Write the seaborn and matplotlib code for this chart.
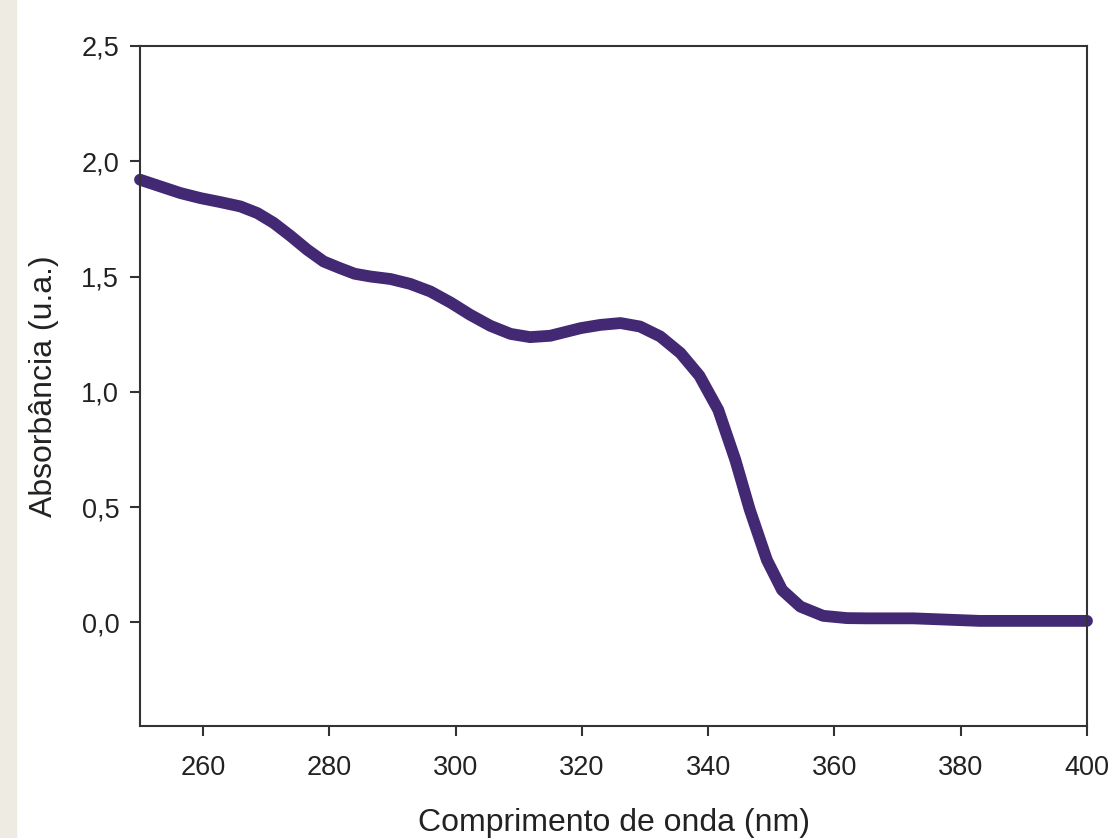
import pandas as pd
import matplotlib.pyplot as plt
import seaborn as sns
from matplotlib.patches import Rectangle

wavelength = [250.0, 253.2, 256.4, 259.6, 262.7, 265.9, 268.6, 271.2, 273.8,
              276.5, 279.1, 281.7, 284.0, 286.5, 289.7, 292.8, 296.0, 299.2,
              302.3, 305.5, 308.7, 311.8, 315.0, 316.6, 319.8, 322.9, 326.1,
              329.2, 332.4, 335.6, 338.6, 341.6, 344.3, 346.6, 349.3, 351.7,
              354.6, 358.2, 362.0, 365.2, 372.5, 383.0, 390.0, 400.0]
absorbance = [1.920, 1.891, 1.862, 1.840, 1.823, 1.804, 1.775, 1.732, 1.677,
              1.616, 1.565, 1.536, 1.512, 1.500, 1.489, 1.468, 1.435, 1.387,
              1.334, 1.286, 1.251, 1.237, 1.243, 1.254, 1.276, 1.290, 1.298,
              1.283, 1.240, 1.168, 1.070, 0.921, 0.704, 0.487, 0.270, 0.140,
              0.068, 0.028, 0.018, 0.017, 0.017, 0.006, 0.006, 0.006]

xtick_values = [260, 280, 300, 320, 340, 360, 380, 400]
ytick_values = [0.0, 0.5, 1.0, 1.5, 2.0, 2.5]
ytick_labels = ["0,0", "0,5", "1,0", "1,5", "2,0", "2,5"]

df = pd.DataFrame({"nm": wavelength, "abs": absorbance})

sns.set_style("ticks")
plt.rcParams['font.family'] = ['Liberation Sans', 'DejaVu Sans']

fig = plt.figure(figsize=(11.08, 8.38), dpi=100)
fig.patches.append(Rectangle((0, 0), 16 / 1108, 1, transform=fig.transFigure,
                             color="#eeebe3", zorder=0))
ax = fig.add_axes([140 / 1108, 1 - 726 / 838, 947 / 1108, 680 / 838])

sns.lineplot(data=df, x="nm", y="abs", color="#432874", linewidth=8.5,
             solid_capstyle="round", solid_joinstyle="round", ax=ax, clip_on=False)

ax.set_xlim(250, 400)
ax.set_ylim(-0.45, 2.5)
ax.set_xticks(xtick_values)
ax.set_yticks(ytick_values)
ax.set_yticklabels(ytick_labels)

for s in ax.spines.values():
    s.set_visible(True)
    s.set_linewidth(1.5)
    s.set_color("#333333")
ax.tick_params(length=7, width=1.5, color="#333333", labelsize=19.5,
               labelcolor="#222222")
ax.tick_params(axis="y", pad=8)
ax.tick_params(axis="x", pad=14)

ax.set_xlabel("Comprimento de onda (nm)", fontsize=23, labelpad=19, color="#222222")
ax.set_ylabel("Absorbância (u.a.)", fontsize=23, labelpad=16, color="#222222")

plt.savefig("out.png", dpi=100)
